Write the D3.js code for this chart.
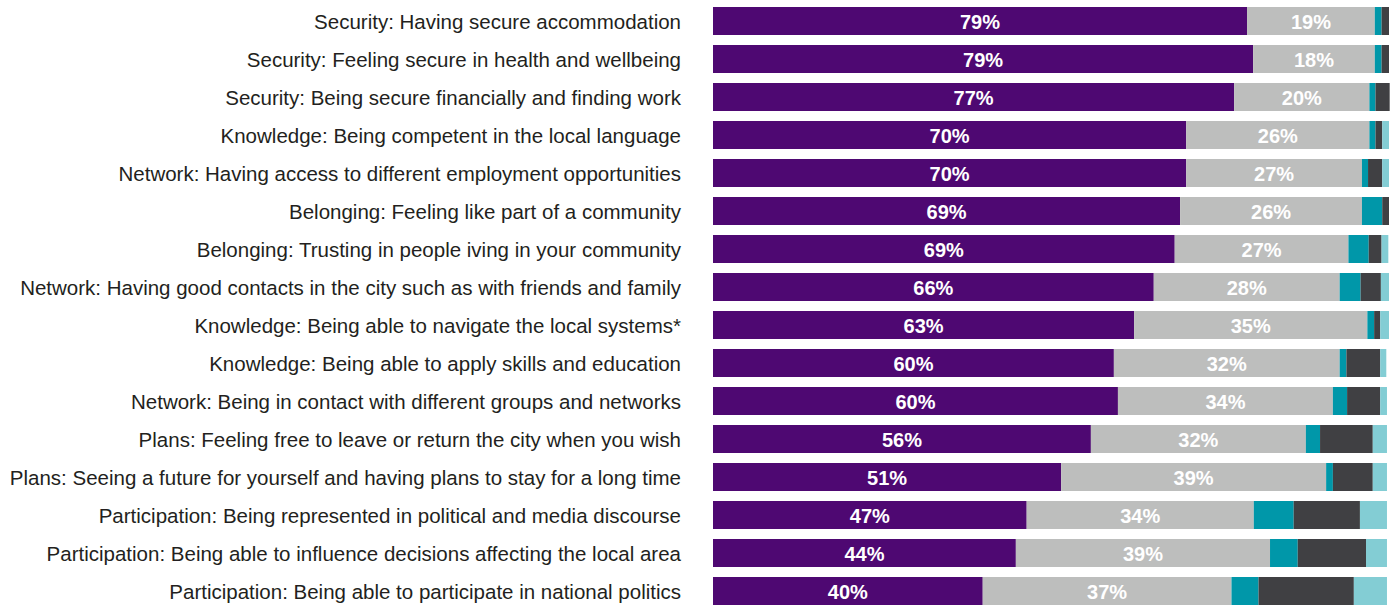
<!DOCTYPE html>
<html><head><meta charset="utf-8">
<script src="https://cdn.jsdelivr.net/npm/d3@7"></script>
<style>body{margin:0;background:#fff}svg{display:block}</style>
</head><body>
<svg id="c" width="1396" height="607"></svg>
<script>
const categories = [
  "Security: Having secure accommodation",
  "Security: Feeling secure in health and wellbeing",
  "Security: Being secure financially and finding work",
  "Knowledge: Being competent in the local language",
  "Network: Having access to different employment opportunities",
  "Belonging: Feeling like part of a community",
  "Belonging: Trusting in people iving in your community",
  "Network: Having good contacts in the city such as with friends and family",
  "Knowledge: Being able to navigate the local systems*",
  "Knowledge: Being able to apply skills and education",
  "Network: Being in contact with different groups and networks",
  "Plans: Feeling free to leave or return the city when you wish",
  "Plans: Seeing a future for yourself and having plans to stay for a long time",
  "Participation: Being represented in political and media discourse",
  "Participation: Being able to influence decisions affecting the local area",
  "Participation: Being able to participate in national politics"
];
const seriesA = [79.0,79.9,77.1,70.0,70.0,69.1,68.3,65.2,62.3,59.3,59.9,55.9,51.5,46.4,44.8,39.9];
const seriesB = [18.9,18.0,20.0,27.1,26.0,26.9,25.7,27.5,34.5,33.4,31.8,31.8,39.2,33.6,37.6,36.8];
const seriesC = [1.0,1.0,0.9,0.9,0.9,3.0,3.0,3.1,1.0,1.0,2.1,2.1,1.0,5.9,4.1,4.0];
const seriesD = [1.1,1.1,2.1,1.0,2.1,1.0,1.9,3.0,0.9,5.0,4.9,7.8,5.9,9.8,10.1,14.1];
const seriesE = [0,0,0,1.0,1.0,0,1.0,1.2,1.3,0.9,1.0,2.1,2.1,4.0,3.1,4.9];
const labelsA = [79,79,77,70,70,69,69,66,63,60,60,56,51,47,44,40];
const labelsB = [19,18,20,26,27,26,27,28,35,32,34,32,39,34,39,37];

const series = [seriesA, seriesB, seriesC, seriesD, seriesE];
const keys = ["a","b","c","d","e"];
const colors = ["#4e0872","#bdbebd","#0097a9","#404043","#83cdd4"];

const rows = categories.map((c,i)=>{
  const o = {cat:c, i};
  keys.forEach((k,j)=>o[k]=series[j][i]);
  return o;
});

const svg = d3.select("#c");
const x = d3.scaleLinear().domain([0,100]).range([713,1389]);
const y = d3.scaleBand().domain(categories).range([2,610]).paddingInner(10/38).paddingOuter(5/38);

const stack = d3.stack().keys(keys)(rows);
const g = svg.append("g");
g.selectAll("g.s").data(stack).join("g").attr("class","s")
  .attr("fill",(d,i)=>colors[i])
  .selectAll("rect").data(d=>d).join("rect")
  .attr("x",d=>x(d[0])).attr("width",d=>Math.max(0,x(d[1])-x(d[0])))
  .attr("y",d=>y(d.data.cat)).attr("height",y.bandwidth());

// category labels
svg.append("g").selectAll("text").data(categories).join("text")
  .attr("x",681).attr("y",d=>y(d)+y.bandwidth()/2)
  .attr("text-anchor","end").attr("dominant-baseline","central")
  .attr("font-family","Liberation Sans, Arial, sans-serif").attr("font-size",20.5)
  .attr("fill","#231f20").text(d=>d);

// value labels
const lab = [[stack[0], labelsA],[stack[1], labelsB]];
lab.forEach(([s,labels])=>{
  svg.append("g").selectAll("text").data(s).join("text")
    .attr("x",d=>(x(d[0])+x(d[1]))/2).attr("y",d=>y(d.data.cat)+y.bandwidth()/2+1)
    .attr("text-anchor","middle").attr("dominant-baseline","central")
    .attr("font-family","Liberation Sans, Arial, sans-serif").attr("font-size",20).attr("font-weight","bold")
    .attr("fill","#fff").text((d,i)=>labels[i]+"%");
});
</script>
</body></html>
